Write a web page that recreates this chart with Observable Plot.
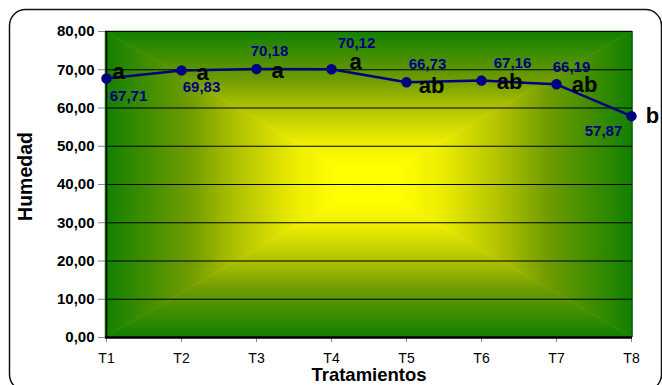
<!DOCTYPE html>
<html>
<head>
<meta charset="utf-8">
<script src="https://cdn.jsdelivr.net/npm/d3@7"></script>
<script src="https://cdn.jsdelivr.net/npm/@observablehq/plot@0.6"></script>
<style>
  html, body { margin: 0; padding: 0; background: #fff; }
  #chart { width: 662px; height: 385px; }
</style>
</head>
<body>
<div id="chart"></div>
<script>
// Humedad por tratamiento
const tratamientos = ["T1", "T2", "T3", "T4", "T5", "T6", "T7", "T8"];
const humedad = [67.71, 69.83, 70.18, 70.12, 66.73, 67.16, 66.19, 57.87];
const grupos = ["a", "a", "a", "a", "ab", "ab", "ab", "b"];
const yTicks = [0, 10, 20, 30, 40, 50, 60, 70, 80];

const data = tratamientos.map((t, i) => ({t, h: humedad[i], g: grupos[i]}));

const font = "Arial, 'Liberation Sans', sans-serif";
const navy = "#000080";
const fmt = (v) => v.toFixed(2).replace(".", ",");

// label offsets (px) for the value and group labels of each point
const valueOffset = [[22, 18], [20, 17], [13, -18], [25, -26], [21, -18], [31, -17], [15, -17], [-28, 15]];
const groupOffset = [[12, -7], [21, 3], [21, 2], [24, -7], [25, 4], [28, 1], [28, 1], [21, 0]];

// rounded chart border
const border = (index, scales, values, dim) => {
  const g = d3.create("svg:g");
  g.append("rect")
    .attr("x", 9.5).attr("y", 9.5)
    .attr("width", dim.width - 10).attr("height", dim.height - 4)
    .attr("rx", 16).attr("ry", 16)
    .attr("fill", "#fff").attr("stroke", "#111").attr("stroke-width", 1.5);
  return g.node();
};

// plot-area fill: rectangular gradient from the centre (yellow) to the edges (green)
const background = (index, scales, values, dim) => {
  const x0 = dim.marginLeft, x1 = dim.width - dim.marginRight;
  const y0 = dim.marginTop, y1 = dim.height - dim.marginBottom;
  const cx = (x0 + x1) / 2, cy = (y0 + y1) / 2;
  const g = d3.create("svg:g");
  const defs = g.append("defs");
  const stops = [[0, "#128000"], [0.32, "#6f9c00"], [0.5, "#b0c200"], [0.72, "#ecec00"], [0.88, "#ffff00"], [1, "#ffff00"]];
  const parts = [
    {id: "bg-top", from: [cx, y0], pts: [[x0, y0], [x1, y0], [cx, cy]]},
    {id: "bg-bottom", from: [cx, y1], pts: [[x0, y1], [x1, y1], [cx, cy]]},
    {id: "bg-left", from: [x0, cy], pts: [[x0, y0], [x0, y1], [cx, cy]]},
    {id: "bg-right", from: [x1, cy], pts: [[x1, y0], [x1, y1], [cx, cy]]}
  ];
  for (const p of parts) {
    const lg = defs.append("linearGradient")
      .attr("id", p.id).attr("gradientUnits", "userSpaceOnUse")
      .attr("x1", p.from[0]).attr("y1", p.from[1])
      .attr("x2", cx).attr("y2", cy);
    for (const [o, c] of stops) lg.append("stop").attr("offset", o).attr("stop-color", c);
    g.append("polygon")
      .attr("points", p.pts.map((d) => d.join(",")).join(" "))
      .attr("fill", `url(#${p.id})`)
      .attr("stroke", `url(#${p.id})`).attr("stroke-width", 0.6);
  }
  g.append("line").attr("x1", x1).attr("x2", x1).attr("y1", y0).attr("y2", y1)
    .attr("stroke", "#0d5e00").attr("stroke-width", 1.5);
  return g.node();
};

const valueLabels = data.map((d, i) => Plot.text([d], {
  x: "t", y: "h", text: (r) => fmt(r.h),
  dx: valueOffset[i][0], dy: valueOffset[i][1],
  fill: navy, fontWeight: "bold", fontSize: 15
}));

const groupLabels = data.map((d, i) => Plot.text([d], {
  x: "t", y: "h", text: "g",
  dx: groupOffset[i][0], dy: groupOffset[i][1],
  fill: "#000", fontWeight: "bold", fontSize: 22
}));

const chart = Plot.plot({
  width: 662,
  height: 385,
  marginLeft: 105,
  marginRight: 30,
  marginTop: 31,
  marginBottom: 48,
  style: {fontFamily: font, background: "transparent", overflow: "visible"},
  x: {type: "point", domain: tratamientos, padding: 0, label: null},
  y: {domain: [0, 80], label: null},
  marks: [
    border,
    background,
    Plot.gridY(yTicks, {stroke: "#000", strokeOpacity: 1, strokeWidth: 1}),
    Plot.axisY(yTicks, {
      tickFormat: fmt, fontSize: 15, fontWeight: "bold", fill: "#000",
      tickSize: 7, tickPadding: 4, stroke: "#888", label: null
    }),
    Plot.axisX({fontSize: 14, tickSize: 5, tickPadding: 11, stroke: "#888", fill: "#000", label: null}),
    Plot.ruleY([0], {stroke: "#000", strokeWidth: 2.5}),
    Plot.ruleX(["T1"], {stroke: "#000", strokeWidth: 1.5}),
    Plot.line(data, {x: "t", y: "h", stroke: navy, strokeWidth: 2.5}),
    Plot.dot(data, {x: "t", y: "h", r: 4.5, fill: navy, stroke: navy}),
    ...valueLabels,
    ...groupLabels,
    Plot.text(["Tratamientos"], {
      frameAnchor: "bottom", textAnchor: "middle", lineAnchor: "middle",
      dy: 38, fontSize: 18.5, fontWeight: "bold", fill: "#000"
    }),
    Plot.text(["Humedad"], {
      frameAnchor: "left", textAnchor: "middle", lineAnchor: "middle",
      dx: -80, dy: -8, rotate: -90, fontSize: 19.5, fontWeight: "bold", fill: "#000"
    })
  ]
});

document.getElementById("chart").append(chart);
</script>
</body>
</html>
